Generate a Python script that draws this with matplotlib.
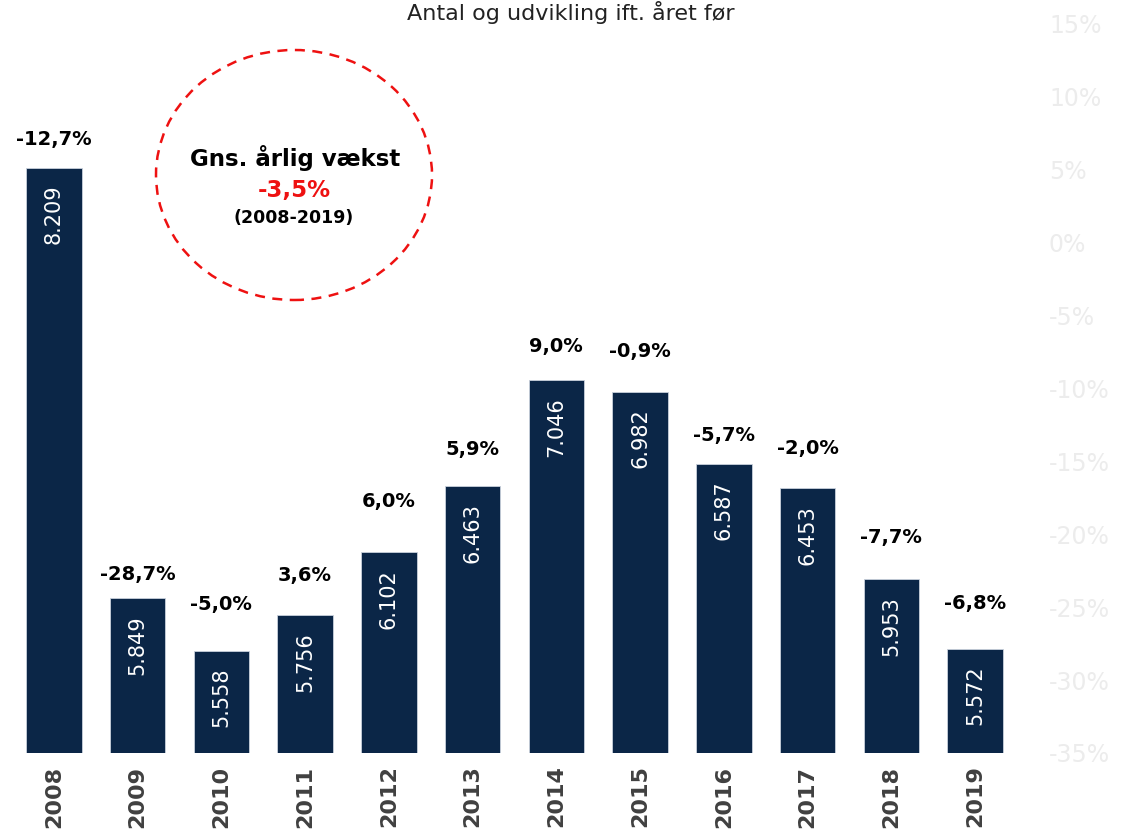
import matplotlib
matplotlib.use("Agg")
import matplotlib.pyplot as plt
from matplotlib.patches import Ellipse

plt.rcParams['font.family'] = ['DejaVu Sans']

years = ["2008", "2009", "2010", "2011", "2012", "2013", "2014", "2015", "2016", "2017", "2018", "2019"]
values = [8209, 5849, 5558, 5756, 6102, 6463, 7046, 6982, 6587, 6453, 5953, 5572]
growth = [-12.7, -28.7, -5.0, 3.6, 6.0, 5.9, 9.0, -0.9, -5.7, -2.0, -7.7, -6.8]
right_ticks = [15, 10, 5, 0, -5, -10, -15, -20, -25, -30, -35]
title = "Antal og udvikling ift. året før"

# layout: gap (in pixels) between bar top and centre of the growth label
label_gap_px = [29, 24, 47, 40, 51, 37, 34, 40, 28, 40, 42, 45]

bar_color = "#0b2647"

fig = plt.figure(figsize=(11.22, 8.32), dpi=100)
ax = fig.add_axes([12/1122, 1 - 753/832, (1017 - 12)/1122, (753 - 24)/832])

x = list(range(len(years)))
ax.bar(x, values, width=0.66, color=bar_color, edgecolor="#c9d1dc", linewidth=0.6)
ax.set_ylim(5000, 9000)
ax.set_xlim(-0.5, len(years) - 0.5)

for xi, v, g, gap in zip(x, values, growth, label_gap_px):
    ax.annotate(f"{v:,}".replace(",", "."), (xi, v), xytext=(0, -12), textcoords="offset points",
                rotation=90, ha="center", va="top", color="white", fontsize=15)
    ax.annotate(f"{g:.1f}%".replace(".", ","), (xi, v), xytext=(0, gap * 0.72), textcoords="offset points",
                ha="center", va="center", color="black", fontsize=14, fontweight="bold")

ax.set_xticks(x)
ax.set_xticklabels(years, rotation=90, fontsize=16, fontweight="bold", color="#404040")
ax.tick_params(axis="x", length=0, pad=9)
ax.set_yticks([])
for s in ax.spines.values():
    s.set_visible(False)

ax2 = ax.twinx()
ax2.set_ylim(-35, 15)
ax2.set_yticks(right_ticks)
ax2.set_yticklabels([f"{t}%" for t in right_ticks], fontsize=17, color="#ececec")
ax2.tick_params(axis="y", length=0, pad=23)
for s in ax2.spines.values():
    s.set_visible(False)

fig.text(571/1122, 1 - 13/832, title, ha="center", va="center", fontsize=16, color="#222222")

ell = Ellipse((294/1122, 1 - 175/832), 276/1122, 250/832, transform=fig.transFigure,
              fill=False, edgecolor="#ee1111", linestyle=(0, (4, 3)), linewidth=1.8)
fig.patches.append(ell)
fig.text(295/1122, 1 - 158/832, "Gns. årlig vækst", ha="center", va="center", fontsize=16.5, fontweight="bold", color="black")
fig.text(294/1122, 1 - 190/832, "-3,5%", ha="center", va="center", fontsize=16.5, fontweight="bold", color="#ee1111")
fig.text(294/1122, 1 - 218/832, "(2008-2019)", ha="center", va="center", fontsize=12.5, fontweight="bold", color="black")

fig.savefig("out.png", dpi=100, facecolor="white")
